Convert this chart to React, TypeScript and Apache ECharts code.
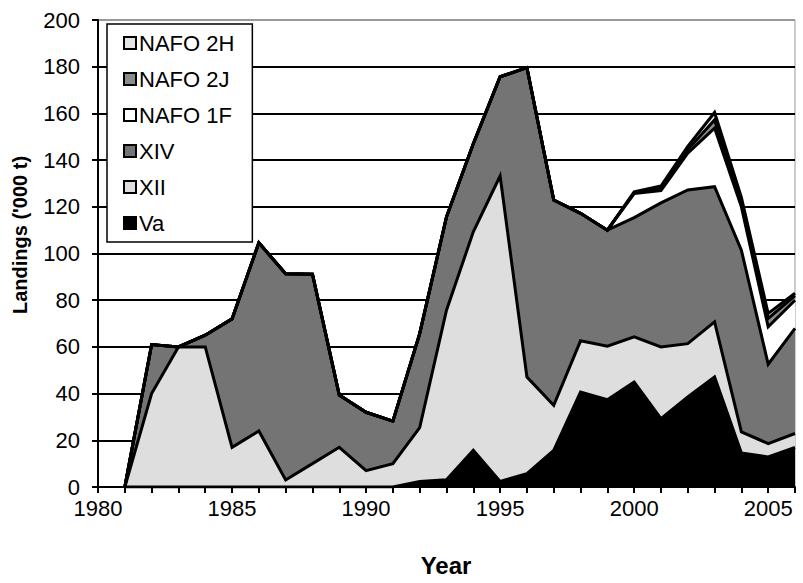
import React, { useEffect, useRef } from "react";
import * as echarts from "echarts";

const years = ["1980","1981","1982","1983","1984","1985","1986","1987","1988","1989","1990","1991","1992","1993","1994","1995","1996","1997","1998","1999","2000","2001","2002","2003","2004","2005","2006"];
// first category (1980) has no data
const va     = [null,0,0,0,0,0,0,0,0,0,0,0,2.4,3.1,15.7,2.4,5.7,15.7,40.7,37.4,45,29.3,38.6,47.1,14.6,12.9,16.9];
const xii    = [null,0,40,60,60,17,24,3,10,17,7,10,23,72.6,93.6,130.8,41.4,19.3,21.9,22.9,19.3,30.7,22.8,23.6,9,5.7,6];
const xiv    = [null,0,21,0,5,55,80.6,88.3,81.1,22.4,25,18.2,40.3,40,37.7,42.5,132.5,87.9,54.6,49.7,51.1,61.7,65.8,57.9,77.8,34,45];
const nafo1F = [null,0,0,0,0,0,0,0,0,0,0,0,0,0,0,0,0,0,0,0,10.3,5.2,15.8,25.1,18.6,16,12.1];
const nafo2J = [null,0,0,0,0,0,0,0,0,0,0,0,0,0,0,0,0,0,0,0,0.3,1.1,1.5,3.5,2,3.6,2];
const nafo2H = [null,0,0,0,0,0,0,0,0,0,0,0,0,0,0,0,0,0,0,0,0.4,0.9,1.4,3.2,2,2.1,1];

const seriesNames = ["Va", "XII", "XIV", "NAFO 1F", "NAFO 2J", "NAFO 2H"];
const seriesData = [va, xii, xiv, nafo1F, nafo2J, nafo2H];
const fills = ["#000000", "#dedede", "#747474", "#ffffff", "#8c8c8c", "#e4e4e4"];
const legendOrder = ["NAFO 2H", "NAFO 2J", "NAFO 1F", "XIV", "XII", "Va"];
const yTicks = [0, 20, 40, 60, 80, 100, 120, 140, 160, 180, 200];

const FONT = "'Liberation Sans', Arial, sans-serif";

export default function App() {
  const ref = useRef<HTMLDivElement>(null);
  useEffect(() => {
    if (!ref.current) return;
    const chart = echarts.init(ref.current, undefined, { renderer: "svg" });
    const areaSeries = seriesNames.map((name, i) => ({
      name,
      type: "line",
      stack: "area",
      data: seriesData[i],
      showSymbol: false,
      symbol: "none",
      lineStyle: { width: 0, color: fills[i] },
      itemStyle: { color: fills[i] },
      areaStyle: { color: fills[i], opacity: 1 },
      z: 2,
    }));
    const lineSeries = seriesNames.map((name, i) => ({
      name: name + " outline",
      type: "line",
      stack: "outline",
      data: seriesData[i],
      showSymbol: false,
      symbol: "none",
      lineStyle: { width: 3, color: "#000", join: "miter" },
      z: 3,
      silent: true,
    }));
    const splitColors = yTicks.map((t) => (t === 200 ? "#999" : "#000"));
    chart.setOption({
      animation: false,
      backgroundColor: "#fff",
      textStyle: { fontFamily: FONT },
      grid: { left: 98, right: 8, top: 20, bottom: 96, show: true, borderColor: "#999", borderWidth: 1 },
      legend: {
        orient: "vertical",
        left: 107,
        top: 24,
        data: legendOrder.map((n) => {
          const idx = seriesNames.indexOf(n);
          return { name: n, icon: "rect", itemStyle: { color: fills[idx], borderColor: "#000", borderWidth: 2 } };
        }),
        itemWidth: 12,
        itemHeight: 12,
        itemGap: 14,
        padding: [8, 18, 8, 16],
        backgroundColor: "#fff",
        borderColor: "#000",
        borderWidth: 1.5,
        textStyle: { fontSize: 22, lineHeight: 22, color: "#000", fontFamily: FONT, padding: [0, 0, 0, -2] },
        selectedMode: false,
      },
      xAxis: {
        type: "category",
        data: years,
        boundaryGap: false,
        axisLine: { show: true, lineStyle: { color: "#000", width: 2 } },
        axisTick: { show: true, inside: false, length: 6, interval: 0, lineStyle: { color: "#000", width: 2 } },
        axisLabel: {
          color: "#000",
          fontSize: 22,
          margin: 10,
          interval: 0,
          fontFamily: FONT,
          formatter: (v: string) => (Number(v) % 5 === 0 ? v : ""),
        },
        splitLine: { show: false },
      },
      yAxis: {
        type: "value",
        min: 0,
        max: 200,
        interval: 20,
        axisLine: { show: true, lineStyle: { color: "#000", width: 2 } },
        axisTick: { show: true, inside: false, length: 6, lineStyle: { color: "#000", width: 2 } },
        axisLabel: { color: "#000", fontSize: 22, margin: 18, fontFamily: FONT },
        splitLine: { show: true, lineStyle: { color: splitColors, width: 2 } },
      },
      graphic: [
        {
          type: "text",
          x: 20,
          y: 235,
          rotation: Math.PI / 2,
          style: {
            text: "Landings ('000 t)",
            fontSize: 20,
            fontWeight: "bold",
            fontFamily: FONT,
            fill: "#000",
            align: "center",
            verticalAlign: "middle",
          },
        },
        {
          type: "text",
          x: 446,
          y: 565,
          style: {
            text: "Year",
            fontSize: 24,
            fontWeight: "bold",
            fontFamily: FONT,
            fill: "#000",
            align: "center",
            verticalAlign: "middle",
          },
        },
      ],
      series: [...areaSeries, ...lineSeries],
    });
    return () => chart.dispose();
  }, []);
  return <div ref={ref} style={{ position: "fixed", left: 0, top: 0, width: 803, height: 583 }} />;
}
